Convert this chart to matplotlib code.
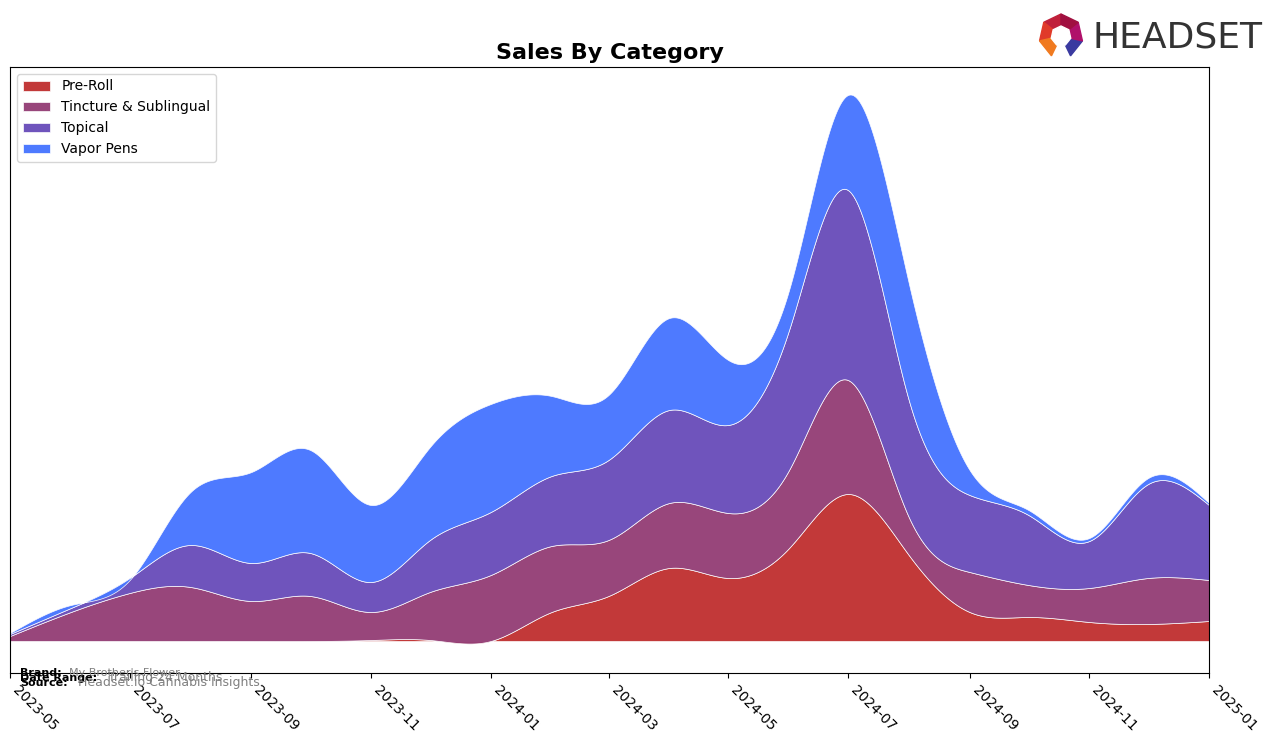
import numpy as np
import pandas as pd
import matplotlib
matplotlib.use("Agg")
import matplotlib.pyplot as plt
import matplotlib.dates as mdates
from matplotlib.patches import Polygon

months = pd.date_range("2023-05-01", "2025-01-01", freq="MS")

categories = ["Pre-Roll", "Tincture & Sublingual", "Topical", "Vapor Pens"]
colors = ["#C03232", "#954077", "#6A4EBA", "#4876FF"]

pre_roll = [0, 0, 0, 0, 0, 0, 1, 1, 0, 29, 45, 73, 63, 93, 147, 86, 29, 24, 19, 17, 20]
tincture = [5, 29, 48, 54, 40, 45, 28, 48, 66, 66, 56, 65, 65, 78, 114, 38, 40, 32, 34, 46, 41]
topical = [2, 4, 15, 42, 38, 43, 30, 52, 63, 70, 80, 93, 88, 140, 190, 117, 77, 70, 47, 94, 75]
vapor = [1, 3, -2, 53, 91, 103, 77, 93, 108, 80, 65, 92, 65, 40, 95, 117, 25, 5, 3, 6, 2]


def natural_spline(x, y, xs):
    # natural cubic spline, numpy only
    x = np.asarray(x, float)
    y = np.asarray(y, float)
    n = len(x)
    h = np.diff(x)
    A = np.zeros((n, n))
    b = np.zeros(n)
    A[0, 0] = 1
    A[-1, -1] = 1
    for i in range(1, n - 1):
        A[i, i - 1] = h[i - 1]
        A[i, i] = 2 * (h[i - 1] + h[i])
        A[i, i + 1] = h[i]
        b[i] = 3 * ((y[i + 1] - y[i]) / h[i] - (y[i] - y[i - 1]) / h[i - 1])
    c = np.linalg.solve(A, b)
    idx = np.clip(np.searchsorted(x, xs) - 1, 0, n - 2)
    dx = xs - x[idx]
    bb = (y[idx + 1] - y[idx]) / h[idx] - h[idx] * (2 * c[idx] + c[idx + 1]) / 3
    d = (c[idx + 1] - c[idx]) / (3 * h[idx])
    return y[idx] + bb * dx + c[idx] * dx ** 2 + d * dx ** 3


xm = mdates.date2num(months)
xs = np.linspace(xm[0], xm[-1], 800)
smooth = [natural_spline(xm, s, xs) for s in [pre_roll, tincture, topical, vapor]]

W, H = 1276, 743
fig = plt.figure(figsize=(W / 100, H / 100), dpi=100)
ax = fig.add_axes([10 / W, 1 - 673 / H, 1199 / W, 606 / H])
ax.stackplot(mdates.num2date(xs), *smooth, labels=categories, colors=colors,
             alpha=0.97, edgecolor=(1, 1, 1, 0.15), linewidth=0.5)

ax.set_xlim(months[0], months[-1])
ax.set_ylim(-32, 574)
ax.set_yticks([])
ax.xaxis.set_major_locator(mdates.MonthLocator(bymonth=[1, 3, 5, 7, 9, 11]))
ax.xaxis.set_major_formatter(mdates.DateFormatter("%Y-%m"))
plt.setp(ax.get_xticklabels(), rotation=-45, ha="left", fontsize=10)
ax.set_title("Sales By Category", fontsize=16, fontweight="bold")
ax.legend(loc="upper left", fontsize=10)

# footer text (overlaps like the original)
fig.text(20 / W, 1 - 676 / H, "Brand:", fontsize=8, fontweight="bold")
fig.text(69 / W, 1 - 676 / H, "My Brother's Flower", fontsize=8, color="gray")
fig.text(20 / W, 1 - 681 / H, "Date Range:", fontsize=8, fontweight="bold")
fig.text(108 / W, 1 - 681 / H, "Trailing 24 Months", fontsize=9, color="gray")
fig.text(20 / W, 1 - 686 / H, "Source:", fontsize=8, fontweight="bold")
fig.text(78 / W, 1 - 686 / H, "Headset.io Cannabis Insights", fontsize=9, color="gray")

# logo
fig.text(1092 / W, 1 - 38 / H, "HEADSET", fontsize=26, color="#333333",
         va="center", ha="left")
cx, cy, r = 1061, 36, 22
pts = []
for k in range(7):
    a = np.deg2rad(90 + k * 360 / 7)
    pts.append((cx + r * np.cos(a), cy - r * np.sin(a)))
logo_cols = ["#C0203A", "#E03A2A", "#F07A20", "#5050C0", "#3A3AA0", "#B0106A", "#A01040"]
for k in range(7):
    if k == 3:
        continue
    p1 = pts[k]
    p2 = pts[(k + 1) % 7]
    tri = [(cx / W, 1 - cy / H), (p1[0] / W, 1 - p1[1] / H), (p2[0] / W, 1 - p2[1] / H)]
    fig.patches.append(Polygon(tri, closed=True, transform=fig.transFigure, color=logo_cols[k]))
hole = []
for k in range(7):
    a = np.deg2rad(90 + k * 360 / 7)
    hole.append(((cx + 10 * np.cos(a)) / W, 1 - (cy - 10 * np.sin(a)) / H))
fig.patches.append(Polygon(hole, closed=True, transform=fig.transFigure, color="white"))

fig.savefig("out.png", dpi=100)
